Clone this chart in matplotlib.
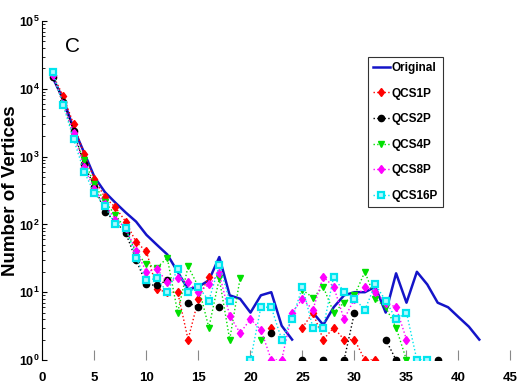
import numpy as np
import matplotlib
matplotlib.use("Agg")
import matplotlib.pyplot as plt

# Degree values on the x axis (1..42)
degrees = list(range(1, 43))

# Number of vertices per degree; None = no vertex with that degree
original = [14500, 7000, 2600, 1150, 500, 300, 210, 150, 110, 70,
            50, 36, 20, 11, 12, 15, 33, 9, 8, 5,
            9, 10, 3.2, 2, None, 5, 3.3, 6, 9, 10,
            10, 12, 5, 19, 7, 20, 13, 7, 6, 4.3,
            3.1, 2]
qcs1p = [16000, 7800, 3000, 1100, 470, 250, 180, 110, 55, 40,
         11, 10, 10, 2, 8, 17, None, None, None, None,
         None, 3, None, None, 3, 5, 2, 3, 2, 2,
         1, 1]
qcs2p = [15000, 6500, 2400, 770, 360, 155, 110, 75, 30, 13,
         12.6, 15, None, 7, 6, None, 6, None, None, None,
         None, 2.5, None, None, 1, None, 1, None, 1, 5,
         None, None, 2, 1, None, None, None, 1]
qcs4p = [16000, 6000, 2000, 900, 390, 215, 140, 85, 38, 26,
         23, 32, 5, 24, 12, 3, 16, 2, 16, None,
         2, None, None, None, 10.8, 8.3, 12, 5, 7, 9,
         20, 8, 6, 3, 1]
qcs8p = [16000, 6000, 2200, 700, 330, 200, 118, 90, 40, 20,
         22, 14, 16, 14, 10, 13, 19, 4.5, 2.5, 4,
         2.8, 1, 1, 5, 8, 5.5, 17, 12, 4, 8,
         12, 10, 7, 6, 2]
qcs16p = [17700, 5700, 1800, 600, 290, 185, 100, 90, 32, 15,
          16, 10, 22, 10, 12, 7.5, 25, 7.5, None, 1,
          6, 6, 2, 4, 12, 3, 3, 17, 10, 8,
          5.5, 13, 7.5, 4, 5, 1, 1]

x_ticks = [0, 5, 10, 15, 20, 25, 30, 35, 40, 45]


def as_array(values):
    """None -> nan so the log axis leaves a gap"""
    return np.array([np.nan if v is None else v for v in values], dtype=float)


plt.rcParams["font.family"] = ["Liberation Sans", "DejaVu Sans"]
plt.rcParams["mathtext.default"] = "regular"

fig = plt.figure(figsize=(5.18, 3.86), dpi=100)
ax = fig.add_axes([0.082, 0.0674, 0.9035, 0.878])

# Original graph: solid blue line
ax.plot(degrees, as_array(original), color="#1414c8", lw=1.8, label="Original")

# Sampled graphs: dotted lines with markers
series = [
    ("QCS1P", qcs1p, "red", "d", {}),
    ("QCS2P", qcs2p, "black", "o", {}),
    ("QCS4P", qcs4p, "#00e000", "v", {}),
    ("QCS8P", qcs8p, "#ff00ff", "d", {}),
    ("QCS16P", qcs16p, "#00e5ee", "s", {"mfc": "#b0f8ff", "mew": 1.6}),
]
for name, values, color, marker, extra in series:
    y = as_array(values)
    ax.plot(degrees[:len(y)], y, ls=":", lw=1.0, color=color, marker=marker,
            ms=4.5, mec=color, label=name, **extra)

ax.set_yscale("log")
ax.set_ylim(1, 1e5)
ax.set_xlim(0, 45)
ax.set_xticks(x_ticks)

# Only the left axis line is shown
for side in ["top", "right", "bottom"]:
    ax.spines[side].set_visible(False)
ax.spines["left"].set_linewidth(0.8)
ax.tick_params(axis="y", which="both", direction="in", labelsize=9, pad=2)
ax.tick_params(axis="x", direction="in", length=7, color="#888888",
               labelsize=9.5, pad=9)
for lbl in ax.get_xticklabels() + ax.get_yticklabels():
    lbl.set_fontweight("bold")

ax.set_ylabel("Number of Vertices", fontsize=13.5, fontweight="bold")
ax.yaxis.set_label_coords(-0.05, 0.5)
ax.text(0.048, 0.91, "C", transform=ax.transAxes, fontsize=15)

leg = ax.legend(loc="upper left", bbox_to_anchor=(0.695, 0.895), fontsize=8.5,
                frameon=True, fancybox=False, edgecolor="black",
                handlelength=1.4, labelspacing=1.15, borderpad=0.45,
                handletextpad=0.15, borderaxespad=0)
leg.get_frame().set_linewidth(0.8)
for t in leg.get_texts():
    t.set_fontweight("bold")

fig.savefig("out.png", dpi=100)
